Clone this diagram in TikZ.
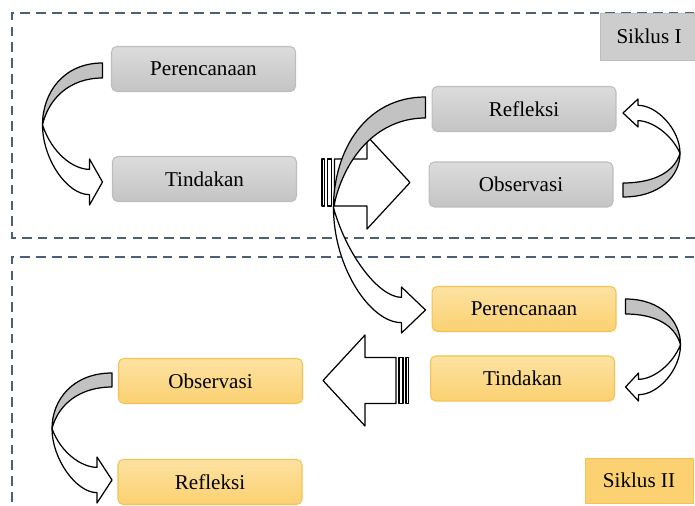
\documentclass[tikz,border=0pt]{standalone}
\usepackage{fontspec}
\setmainfont{Liberation Serif}
\definecolor{frame}{HTML}{4B6075}
\definecolor{greytop}{HTML}{DCDCDC}
\definecolor{greybot}{HTML}{C4C4C4}
\definecolor{greyline}{HTML}{BDBDBD}
\definecolor{orangetop}{HTML}{FDE2A2}
\definecolor{orangebot}{HTML}{FBD171}
\definecolor{orangeline}{HTML}{F3C252}
\definecolor{crescent}{HTML}{C2C2C2}
\tikzset{
  box/.style={rounded corners=3pt, minimum width=3.68cm, minimum height=0.9cm,
    font=\fontsize{12}{14}\selectfont, line width=0.6pt},
  greybox/.style={box, draw=greyline, top color=greytop, bottom color=greybot},
  orangebox/.style={box, draw=orangeline, top color=orangetop, bottom color=orangebot},
  greylabel/.style={draw=greyline, fill=greybot!85!white, minimum width=1.96cm,
    minimum height=0.94cm, font=\fontsize{12}{14}\selectfont},
  orangelabel/.style={draw=orangeline, fill=orangebot, minimum width=2.16cm,
    minimum height=0.9cm, font=\fontsize{12}{14}\selectfont},
  dashbox/.style={draw=frame, line width=1.3pt, dash pattern=on 5.5pt off 3.5pt},
  arrowline/.style={draw=black, line width=0.7pt, line join=round},
}
% #1 placement, #2 reach, #3 drop, #4 band, #5 head depth, #6 head half, #7 fill
\newcommand{\bentarrow}[7]{%
  \begin{scope}[#1]
    \pgfmathsetmacro\neck{0.55*#6}
    \draw[arrowline, fill=white] (-#2,{0.52*#3})
      .. controls (-#2,{0.8*#3}) and ({-0.6*#2},{#3+\neck}) .. (-#5,{#3+\neck})
      -- (-#5,{#3+#6}) -- (0,#3) -- (-#5,{#3-#6}) -- (-#5,{#3-\neck})
      .. controls ({-0.5*#2},{#3-\neck}) and ({-0.85*#2},{0.75*#3}) .. (-#2,{0.52*#3}) -- cycle;
    \draw[arrowline, fill=#7] (0,0)
      .. controls ({-0.65*#2},0) and (-#2,{0.25*#3}) .. (-#2,{0.52*#3})
      .. controls ({-0.9*#2},{0.3*#3}) and ({-0.55*#2},#4) .. (0,#4) -- cycle;
  \end{scope}}
\begin{document}
\begin{tikzpicture}[x=0.02cm, y=-0.02cm]
\useasboundingbox (0,0) rectangle (695,506);
\clip (0,0) rectangle (695,506);
\draw[dashbox] (710,13) -- (12,13) -- (12,238) -- (710,238);
\draw[dashbox] (710,257) -- (12,257) -- (12,520);

\node[greybox] (pa1) at (203.5,69) {Perencanaan};
\node[greybox] (ti1) at (204.5,179) {Tindakan};
\node[greybox] (re1) at (524,109) {Refleksi};
\node[greybox] (ob1) at (521,184.5) {Observasi};
\node[greylabel] (s1) at (649,36.5) {Siklus I};

\node[orangebox] (pa2) at (524,309) {Perencanaan};
\node[orangebox] (ti2) at (522.5,378.5) {Tindakan};
\node[orangebox] (ob2) at (210.5,381) {Observasi};
\node[orangebox] (re2) at (210,482) {Refleksi};
\node[orangelabel] (s2) at (639,480.5) {Siklus II};

\draw[arrowline, fill=white] (322,159) rectangle (324.5,206);
\draw[arrowline, fill=white] (327.5,159) rectangle (331.5,206);
\draw[arrowline, fill=white] (334.5,159) -- (367,159) -- (367,136) -- (410,182.5)
  -- (367,229) -- (367,206) -- (334.5,206) -- cycle;

\draw[arrowline, fill=white] (406,357.5) rectangle (408.5,403.5);
\draw[arrowline, fill=white] (399,357.5) rectangle (403,403.5);
\draw[arrowline, fill=white] (396,357.5) -- (365,357.5) -- (365,335) -- (323,380.5)
  -- (365,426) -- (365,403.5) -- (396,403.5) -- cycle;

\bentarrow{shift={(pa1.west)}, shift={(-8.5,-6)}}{60}{119}{15}{13}{23}{crescent}
\bentarrow{shift={(ob1.east)}, shift={(9.5,12.5)}, xscale=-1, yscale=-1}{57}{84}{14}{15}{14}{crescent}
\bentarrow{shift={(pa2.east)}, shift={(9,-10)}, xscale=-1}{55}{88}{15}{13}{14}{crescent}
\bentarrow{shift={(ob2.west)}, shift={(-6,-8)}}{60}{107}{14}{15}{23}{crescent}
\bentarrow{shift={(re1.west)}, shift={(-6,-12)}}{92}{213}{21}{24}{23}{crescent}
\end{tikzpicture}
\end{document}
